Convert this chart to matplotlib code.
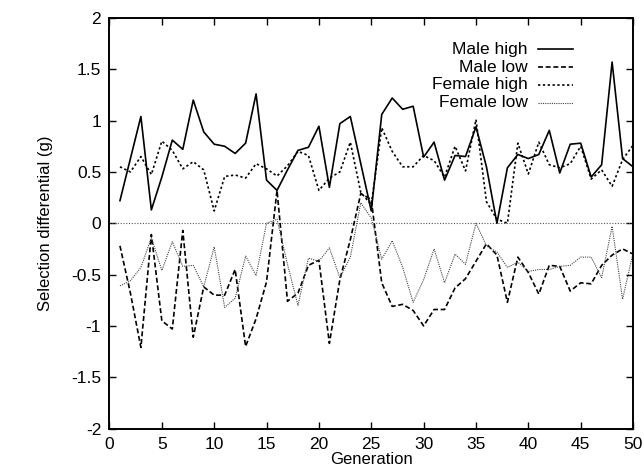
import matplotlib
matplotlib.use("Agg")
import matplotlib.pyplot as plt
import numpy as np

generations = list(range(1, 51))

male_high = [0.22, 0.63, 1.04, 0.13, 0.45, 0.81, 0.72, 1.20, 0.89, 0.77,
             0.75, 0.68, 0.78, 1.26, 0.42, 0.32, 0.52, 0.71, 0.74, 0.945,
             0.35, 0.97, 1.04, 0.58, 0.12, 1.06, 1.22, 1.11, 1.14, 0.645,
             0.79, 0.42, 0.66, 0.65, 0.94, 0.55, 0.0, 0.54, 0.67, 0.63,
             0.67, 0.905, 0.49, 0.77, 0.78, 0.45, 0.57, 1.57, 0.63, 0.55]

male_low = [-0.22, -0.68, -1.21, -0.11, -0.95, -1.03, -0.07, -1.11, -0.62, -0.70,
            -0.70, -0.45, -1.20, -0.93, -0.57, 0.32, -0.76, -0.68, -0.41, -0.36,
            -1.17, -0.55, -0.16, 0.29, 0.23, -0.58, -0.81, -0.79, -0.85, -1.00,
            -0.84, -0.84, -0.63, -0.54, -0.37, -0.20, -0.31, -0.77, -0.33, -0.48,
            -0.69, -0.41, -0.42, -0.66, -0.58, -0.59, -0.41, -0.31, -0.25, -0.30]

female_high = [0.55, 0.50, 0.65, 0.475, 0.80, 0.71, 0.53, 0.60, 0.52, 0.12,
               0.456, 0.47, 0.44, 0.58, 0.53, 0.46, 0.56, 0.70, 0.66, 0.32,
               0.44, 0.50, 0.79, 0.30, 0.18, 0.93, 0.70, 0.55, 0.55, 0.66,
               0.61, 0.45, 0.75, 0.51, 1.01, 0.21, 0.04, 0.0, 0.78, 0.48,
               0.79, 0.57, 0.54, 0.58, 0.75, 0.43, 0.52, 0.36, 0.62, 0.76]

female_low = [-0.61, -0.56, -0.43, -0.14, -0.46, -0.18, -0.42, -0.41, -0.62, -0.23,
              -0.82, -0.73, -0.32, -0.51, 0.0, 0.04, -0.40, -0.80, -0.34, -0.37,
              -0.24, -0.53, -0.33, 0.20, 0.05, -0.35, -0.17, -0.43, -0.77, -0.55,
              -0.25, -0.58, -0.30, -0.40, 0.0, -0.22, -0.28, -0.43, -0.38, -0.47,
              -0.45, -0.45, -0.42, -0.41, -0.33, -0.33, -0.53, -0.03, -0.74, -0.29]

series_labels = ["Male high", "Male low", "Female high", "Female low"]

x_ticks = [0, 5, 10, 15, 20, 25, 30, 35, 40, 45, 50]
y_ticks = [-2, -1.5, -1, -0.5, 0, 0.5, 1, 1.5, 2]
y_tick_labels = ["-2", "-1.5", "-1", "-0.5", "0", "0.5", "1", "1.5", "2"]
zero_line_x = [0, 50]
zero_line_y = [0, 0]

plt.rcParams['font.family'] = ['Liberation Sans', 'DejaVu Sans']
plt.rcParams['axes.unicode_minus'] = False

fig = plt.figure(figsize=(6.44, 4.72), dpi=100)
ax = fig.add_axes([0.170, 0.092, 0.983 - 0.170, 0.962 - 0.092])

# zero reference line
ax.plot(zero_line_x, zero_line_y, color='#555555', lw=0.8,
        linestyle=(0, (1, 1.5)))

styles = [
    dict(color='black', lw=1.2, linestyle='-'),
    dict(color='black', lw=1.2, linestyle=(0, (3.0, 1.6))),
    dict(color='black', lw=1.2, linestyle=(0, (1.4, 1.5))),
    dict(color='#444444', lw=0.8, linestyle=(0, (1, 1))),
]
data = [male_high, male_low, female_high, female_low]

for vals, st, lab in zip(data, styles, series_labels):
    ax.plot(generations, vals, label=lab, **st)

ax.set_xlim(0, 50)
ax.set_ylim(-2, 2)
ax.set_xticks(x_ticks)
ax.set_xticklabels([str(t) for t in x_ticks])
ax.set_yticks(y_ticks)
ax.set_yticklabels(y_tick_labels)
ax.tick_params(direction='in', length=5, width=1.0, top=True, right=True,
               labelsize=12.5, pad=6, colors='black')
for s in ax.spines.values():
    s.set_linewidth(1.4)

ax.set_xlabel("Generation", fontsize=12, labelpad=0)
ax.set_ylabel("Selection differential (g)", fontsize=12, labelpad=13)

# gnuplot-style key: right-aligned labels followed by line samples
key_text_x = 0.799
key_line_x = [0.819, 0.885]
key_rows = [0.924, 0.880, 0.837, 0.793]
for lab, st, ky in zip(series_labels, styles, key_rows):
    ax.text(key_text_x, ky, lab, transform=ax.transAxes, ha='right',
            va='center', fontsize=12.5)
    ax.plot(key_line_x, [ky, ky], transform=ax.transAxes, clip_on=False,
            **st)

fig.savefig("out.png", dpi=100)
